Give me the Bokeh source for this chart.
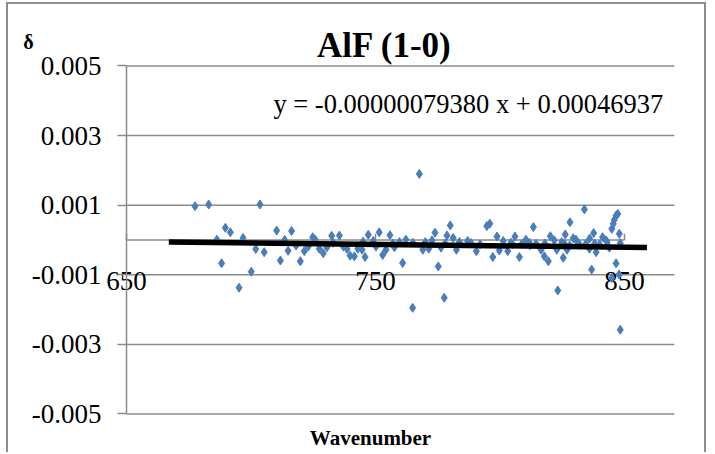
from bokeh.plotting import figure
from bokeh.models import Range1d, FixedTicker, Label, ColumnDataSource
from bokeh.core.properties import value
from bokeh.embed import file_html
from bokeh.resources import INLINE

# ---- data ----
WAVENUMBER = [677.5, 683.0, 703.6, 689.7, 691.7, 686.3, 696.8, 710.3, 716.3, 713.5,
              701.9, 705.3, 714.9, 711.8, 688.2, 700.1, 695.2, 718.1, 719.8, 721.4,
              723.0, 724.8, 725.8, 727.4, 729.0, 730.5, 732.4, 735.5, 737.1, 738.6,
              739.8, 741.5, 742.9, 744.6, 745.8, 747.1, 749.1, 750.2, 751.5, 752.9,
              754.2, 755.8, 757.6, 759.6, 762.2, 760.9, 767.6, 769.0, 770.0, 771.4,
              772.7, 773.9, 775.2, 776.3, 778.7, 780.0, 781.2, 782.5, 783.7, 787.0,
              788.4, 790.5, 794.7, 795.9, 797.1, 798.8, 799.7, 777.6, 764.9, 801.3,
              803.1, 804.4, 806.0, 807.8, 808.8, 810.4, 811.8, 813.4, 814.5, 816.5,
              817.8, 819.4, 820.2, 821.8, 822.8, 824.8, 825.4, 826.2, 826.9, 828.1,
              829.4, 823.2, 833.9, 830.5, 831.4, 834.5, 835.9, 837.6, 838.6, 841.2,
              842.6, 843.9, 844.9, 845.5, 845.9, 846.6, 847.3, 847.9, 848.3, 846.6,
              836.8, 844.9, 848.3, 847.8,
              805.0, 812.0, 818.0, 826.0, 832.0, 838.0, 840.0, 843.0, 836.0, 828.0,
              733.0, 745.0, 757.0, 765.0, 778.0, 792.0]
DELTA = [0.00097, 0.00102, 0.00102, 0.00035, 0.00022, 0.00001, 0.00006, 0.00027, 0.00026, 0.0,
         -0.00026, -0.00035, -0.00031, -0.00059, -0.00067, -0.00091, -0.00137, -0.00016, -0.00061, -0.00032,
         -0.00019, 0.00008, 0.00001, -0.00025, -0.00038, -0.00021, 0.00012, 0.00013, -0.00019, -0.00026,
         -0.00045, -0.00047, -0.00025, -0.00028, -0.00049, 0.00015, -0.00003, -0.00019, 0.00022, -0.00043,
         -0.00028, 0.00014, -0.00021, -0.00006, 0.00001, -0.00066, 0.0019, -0.00028, -0.00006, -0.00025,
         -0.00001, 0.00021, -0.00076, -0.00022, 0.00013, 0.00042, 0.00006, -0.00028, -0.00006, -0.00003,
         -0.00009, -0.00032, 0.0004, 0.00047, -0.00049, 0.0001, -0.0003, -0.00166, -0.00195, -0.00003,
         -0.00032, -0.00008, 0.0001, -0.00049, -0.00011, 0.00001, -0.00008, 0.00037, -0.00011, -0.00028,
         -0.00047, -0.00061, 0.00011, -0.00001, -0.00028, -0.00006, -0.00051, 0.00016, -0.00028, 0.00051,
         0.00005, -0.00145, 0.00088, 0.00001, -0.00009, -0.00011, -0.00025, 0.0002, -0.00035, 0.00008,
         -0.00001, -0.00022, 0.00032, 0.00047, 0.00058, 0.0007, 0.00075, 0.00018, -0.00009, -0.00067,
         -0.00085, -0.00109, -0.00258, -0.00099,
         -0.00012, -0.00015, -0.0001, -0.00012, -0.00014, -0.0001, -0.00013, -0.00006, 0.00004, -0.00016,
         -0.00008, -0.00005, -0.0001, -0.00008, -0.0001, -0.00012]

SLOPE = -0.00000079380
INTERCEPT = 0.00046937
TREND_X = [667.0, 859.0]

Y_TICKS = [0.005, 0.003, 0.001, -0.001, -0.003, -0.005]
Y_TICK_LABELS = ["0.005", "0.003", "0.001", "-0.001", "-0.003", "-0.005"]
X_TICKS = [650, 750, 850]
X_TICK_LABELS = ["650", "750", "850"]
X_MIN, X_MAX = 650, 870
Y_MIN, Y_MAX = -0.005, 0.005

TITLE = "AlF (1-0)"
Y_TITLE = "δ"
X_TITLE = "Wavenumber"
EQUATION = "y = -0.00000079380 x + 0.00046937"

GRAY = "#8a8a8a"
BLUE = "#4a7ebb"
SERIF = "Liberation Serif"

# The frame fills the whole canvas; the chart area (650..870, -0.005..0.005) sits inside it,
# so that titles placed around it are not clipped.
p = figure(width=700, height=450,
           x_range=Range1d(602.61, 883.73), y_range=Range1d(-0.0061638, 0.0067672),
           output_backend="svg", toolbar_location=None, x_axis_location=None,
           min_border_left=0, min_border_right=0, min_border_top=0, min_border_bottom=0)
p.title.visible = False
p.styles = {"border-top": "2px solid #8d8d8d", "border-left": "2px solid #8d8d8d",
            "border-right": "2px solid #8d8d8d", "margin-left": "6px", "margin-top": "2px"}
p.outline_line_color = None
p.background_fill_color = "white"
p.border_fill_color = "white"
p.xgrid.visible = False
p.ygrid.visible = False

ax = p.yaxis[0]
ax.fixed_location = X_MIN
ax.bounds = (Y_MIN, Y_MAX)
ax.ticker = FixedTicker(ticks=Y_TICKS)
ax.major_label_overrides = {t: l for t, l in zip(Y_TICKS, Y_TICK_LABELS)}
ax.axis_line_color = GRAY
ax.axis_line_width = 1.5
ax.major_tick_line_color = GRAY
ax.major_tick_line_width = 1.5
ax.major_tick_out = 9
ax.major_tick_in = 0
ax.minor_tick_line_color = None
ax.major_label_standoff = 16
ax.major_label_text_font = SERIF
ax.major_label_text_font_size = "27px"
ax.major_label_text_color = "black"

# horizontal gridlines (from the vertical axis to the right edge of the chart area)
n = len(Y_TICKS)
p.segment(x0=[X_MIN] * n, y0=Y_TICKS, x1=[X_MAX] * n, y1=Y_TICKS, line_color=GRAY, line_width=1.5)

# horizontal axis line at y = 0 with its tick labels
p.segment(x0=[X_TICKS[0]], y0=[0], x1=[X_TICKS[-1]], y1=[0], line_color=GRAY, line_width=1.5)
p.segment(x0=X_TICKS, y0=[0] * 3, x1=X_TICKS, y1=[0.00018] * 3, line_color=GRAY, line_width=1.5)
p.text(x=X_TICKS, y=[0] * 3, text=X_TICK_LABELS, text_font=value(SERIF), text_font_size="27px",
       text_align="center", text_baseline="middle", y_offset=41, text_color="black")

src = ColumnDataSource(dict(x=WAVENUMBER, y=DELTA))
p.scatter("x", "y", source=src, marker="diamond", size=9, fill_color=BLUE, line_color=BLUE)

trend_y = [SLOPE * x + INTERCEPT for x in TREND_X]
p.line(TREND_X, trend_y, line_color="black", line_width=5.5)

# texts
p.add_layout(Label(x=753.6, y=0.00559, text=TITLE, text_font=SERIF, text_font_size="35px",
                   text_font_style="bold", text_align="center", text_baseline="middle",
                   text_color="black"))
p.add_layout(Label(x=610.6, y=0.00568, text=Y_TITLE, text_font=SERIF, text_font_size="20px",
                   text_font_style="bold", text_align="center", text_baseline="middle",
                   text_color="black"))
p.add_layout(Label(x=709.0, y=0.00392, text=EQUATION, text_font=SERIF, text_font_size="26.5px",
                   text_align="left", text_baseline="middle", text_color="black"))
p.add_layout(Label(x=748.0, y=-0.00570, text=X_TITLE, text_font=SERIF, text_font_size="21px",
                   text_font_style="bold", text_align="center", text_baseline="middle",
                   text_color="black"))

open("out.html", "w").write(file_html(p, INLINE))
